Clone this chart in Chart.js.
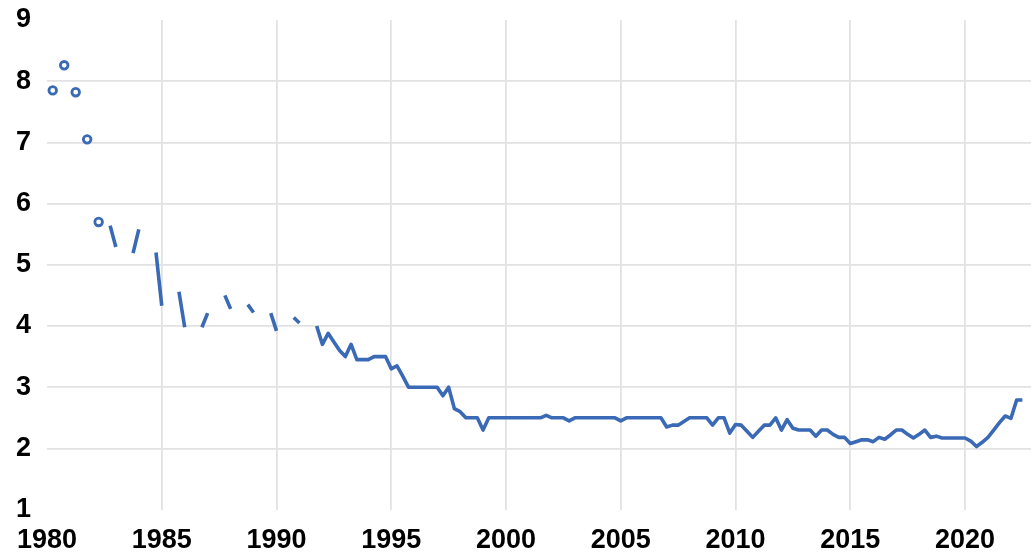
<!DOCTYPE html>
<html>
<head>
<meta charset="utf-8">
<script src="https://cdn.jsdelivr.net/npm/chart.js@4"></script>
<style>
    html, body { margin: 0; padding: 0; background: #ffffff; }
    #wrap { width: 1035px; height: 556px; }
</style>
</head>
<body>
<div id="wrap"><canvas id="lineChart" width="1035" height="556"></canvas></div>
<script>
// quarterly series, first entry is 1980 Q1 (null = no value that quarter)
const startYear = 1980;
const rateValues = [
    null, 7.85, null, 8.26, null, 7.82, null, 7.05, null, 5.70,
    null, 5.64, 5.29, null, null, 5.19, 5.58, null, null, 5.20,
    4.33, null, null, 4.56, 3.98, null, null, 3.98, 4.21, null,
    null, 4.50, 4.28, null, null, 4.35, 4.22, null, null, 4.21,
    3.92, null, null, 4.14, 4.05, null, null, 4.00, 3.70, 3.88,
    3.74, 3.60, 3.50, 3.70, 3.45, 3.45, 3.45, 3.50, 3.50, 3.50,
    3.30, 3.35, 3.18, 3.00, 3.00, 3.00, 3.00, 3.00, 3.00, 2.86,
    3.00, 2.65, 2.60, 2.50, 2.50, 2.50, 2.30, 2.50, 2.50, 2.50,
    2.50, 2.50, 2.50, 2.50, 2.50, 2.50, 2.50, 2.54, 2.50, 2.50,
    2.50, 2.45, 2.50, 2.50, 2.50, 2.50, 2.50, 2.50, 2.50, 2.50,
    2.45, 2.50, 2.50, 2.50, 2.50, 2.50, 2.50, 2.50, 2.35, 2.38,
    2.38, 2.44, 2.50, 2.50, 2.50, 2.50, 2.38, 2.50, 2.50, 2.25,
    2.39, 2.38, 2.28, 2.18, 2.28, 2.38, 2.38, 2.50, 2.30, 2.47,
    2.33, 2.30, 2.30, 2.30, 2.20, 2.30, 2.30, 2.23, 2.18, 2.18,
    2.08, 2.11, 2.14, 2.14, 2.11, 2.18, 2.15, 2.22, 2.30, 2.30,
    2.23, 2.17, 2.23, 2.30, 2.18, 2.20, 2.17, 2.17, 2.17, 2.17,
    2.17, 2.12, 2.03, 2.10, 2.18, 2.30, 2.42, 2.53, 2.49, 2.79,
    2.79
];
const xTickYears = [1980, 1985, 1990, 1995, 2000, 2005, 2010, 2015, 2020];
const yTickValues = [1, 2, 3, 4, 5, 6, 7, 8, 9];

const lineColor = '#3a69b6';
const gridColor = '#e2e2e2';
const labelFont = { family: "'Liberation Sans', Arial, sans-serif", size: 27, weight: 'bold' };

let points = rateValues.map((v, i) => ({ x: startYear + i / 4, y: v }));

// a value with no neighbours gets a marker, like the first few quarters
function isolated(i) {
    let prev = i > 0 ? rateValues[i - 1] : null;
    let next = i < rateValues.length - 1 ? rateValues[i + 1] : null;
    return rateValues[i] !== null && prev === null && next === null;
}

const ctx = document.getElementById('lineChart').getContext('2d');
new Chart(ctx, {
    type: 'line',
    data: {
        datasets: [{
            data: points,
            borderColor: lineColor,
            borderWidth: 3.6,
            borderJoinStyle: 'round',
            backgroundColor: '#ffffff',
            spanGaps: false,
            pointBorderColor: lineColor,
            pointBackgroundColor: '#ffffff',
            pointBorderWidth: 2.8,
            pointRadius: c => isolated(c.dataIndex) ? 3.8 : 0,
            pointHoverRadius: 0,
            tension: 0
        }]
    },
    options: {
        responsive: false,
        animation: false,
        layout: { padding: { top: 20, right: 4, left: 0, bottom: 0 } },
        plugins: {
            legend: { display: false },
            tooltip: { enabled: false }
        },
        scales: {
            x: {
                type: 'linear',
                min: 1980,
                max: 2022.875,
                afterBuildTicks: scale => {
                    scale.ticks = xTickYears.map(v => ({ value: v }));
                },
                afterFit: scale => {
                    scale.height = 46.4;
                    scale.paddingLeft = 0;
                    scale.paddingRight = 0;
                },
                border: { display: false },
                grid: {
                    drawTicks: false,
                    lineWidth: 1.8,
                    color: c => c.tick && c.tick.value === 1980 ? 'rgba(0,0,0,0)' : gridColor
                },
                ticks: {
                    padding: 15,
                    color: '#000000',
                    font: labelFont,
                    maxRotation: 0,
                    autoSkip: false,
                    callback: value => String(value)
                }
            },
            y: {
                min: 1,
                max: 9,
                afterBuildTicks: scale => {
                    scale.ticks = yTickValues.map(v => ({ value: v }));
                },
                afterFit: scale => {
                    scale.width = 47;
                    scale.paddingTop = 0;
                    scale.paddingBottom = 0;
                },
                border: { display: false },
                grid: {
                    drawTicks: false,
                    lineWidth: 1.8,
                    color: c => c.tick && (c.tick.value === 1 || c.tick.value === 9) ? 'rgba(0,0,0,0)' : gridColor
                },
                ticks: {
                    padding: 16,
                    color: '#000000',
                    font: labelFont,
                    callback: value => String(value)
                }
            }
        }
    }
});
</script>
</body>
</html>
